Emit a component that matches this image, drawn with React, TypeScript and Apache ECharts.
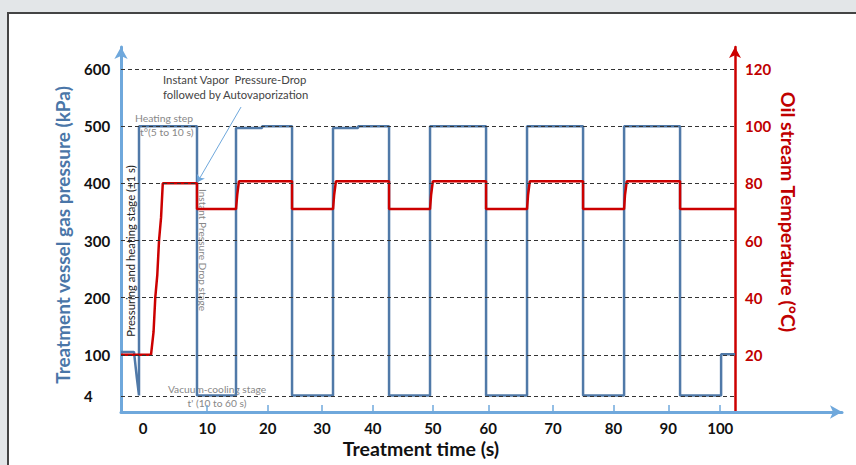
import React, { useEffect, useRef } from "react";
import * as echarts from "echarts";

// Schematic time axis: where each tick label sits (axis units) and its text
const timeTickPositions = [0.2, 11.3, 21.8, 31.2, 40.0, 50.4, 60.0, 71.2, 81.7, 91.2, 100.2];
const timeTickLabels = ["0", "10", "20", "30", "40", "50", "60", "70", "80", "90", "100"];

// Pressure axis (schematic: bottom "4" level drawn just above the axis)
const pressureTickValues = [28, 100, 200, 300, 400, 500, 600];
const pressureTickLabels = ["4", "100", "200", "300", "400", "500", "600"];

const temperatureTickValues = [20, 40, 60, 80, 100, 120];
const temperatureTickLabels = ["20", "40", "60", "80", "100", "120"];

// Treatment vessel gas pressure (kPa, schematic units)
const pressureTime = [
  -3.64, -1.39, -0.9, -0.52, -0.52, 9.53, 9.53, 16.29, 16.29, 20.8, 20.8, 26.0, 26.0,
  33.1, 33.1, 37.44, 37.44, 42.81, 42.81, 49.91, 49.91, 59.62, 59.62, 66.72, 66.72,
  76.43, 76.43, 83.54, 83.54, 93.24, 93.24, 100.35, 100.35, 102.77,
];
const pressureValues = [
  105, 105, 60, 29, 500, 500, 29, 29, 497, 497, 500, 500, 29,
  29, 497, 497, 500, 500, 29, 29, 500, 500, 29, 29, 500,
  500, 29, 29, 500, 500, 29, 29, 101, 101,
];

// Oil stream temperature (°C)
const temperatureTime = [
  -3.64, 1.56, 2.0, 2.3, 2.65, 2.95, 3.3, 3.6, 9.53, 9.53, 16.29, 16.5, 16.8, 26.0, 26.0,
  33.1, 33.3, 33.6, 42.81, 42.81, 49.91, 50.1, 50.4, 59.62, 59.62, 66.72, 66.9, 67.2,
  76.43, 76.43, 83.54, 83.7, 84.0, 93.24, 93.24, 102.77,
];
const temperatureValues = [
  20, 20, 28, 40, 48, 60, 68, 80, 80, 71, 71, 76, 80.7, 80.7, 71,
  71, 76, 80.7, 80.7, 71, 71, 76, 80.7, 80.7, 71, 71, 76, 80.7,
  80.7, 71, 71, 76, 80.7, 80.7, 71, 71,
];

const X_MIN = -3.64;
const X_MAX = 121.3;
const X_END = 102.77;
const P_MAX = 638.5;

function labelFor(positions: number[], labels: string[], v: number) {
  let best = 0;
  for (let i = 1; i < positions.length; i++) {
    if (Math.abs(positions[i] - v) < Math.abs(positions[best] - v)) best = i;
  }
  return labels[best];
}

const FONT = "Lato, 'Open Sans', sans-serif";
const AXIS_BLUE = "#6FA8DC";
const LINE_BLUE = "#5079A8";
const RED = "#CC0000";

export default function App() {
  const ref = useRef<HTMLDivElement>(null);

  useEffect(() => {
    if (!ref.current) return;
    const chart = echarts.init(ref.current, null, { renderer: "svg" });

    const pressureData = pressureTime.map((t, i) => [t, pressureValues[i]]);
    const temperatureData = temperatureTime.map((t, i) => [t, temperatureValues[i]]);

    const gridLines = pressureTickValues.map((v) => [
      { coord: [X_MIN, v] },
      { coord: [X_END, v] },
    ]);

    const text = (
      content: string,
      x: number,
      y: number,
      size: number,
      fill: string,
      opts: any = {}
    ) => ({
      type: "text",
      x,
      y,
      rotation: opts.rotation || 0,
      style: {
        text: content,
        font: `${opts.bold ? "bold " : ""}${size}px ${FONT}`,
        fill,
        textAlign: opts.align || "center",
        textVerticalAlign: "middle",
      },
    });

    const option: any = {
      animation: false,
      backgroundColor: "transparent",
      grid: {
        left: 121,
        right: 856 - 842,
        top: 47,
        bottom: 465 - 412,
        containLabel: false,
        outerBoundsMode: "none",
      },
      xAxis: {
        type: "value",
        min: X_MIN,
        max: X_MAX,
        axisLine: {
          onZero: false,
          symbol: ["none", "arrow"],
          symbolSize: [10, 12],
          lineStyle: { color: AXIS_BLUE, width: 3 },
        },
        axisTick: {
          show: true,
          inside: true,
          length: 7,
          customValues: timeTickPositions.slice(1),
          lineStyle: { color: AXIS_BLUE, width: 1.5 },
        },
        axisLabel: {
          customValues: timeTickPositions,
          formatter: (v: number) => labelFor(timeTickPositions, timeTickLabels, v),
          color: "#111",
          fontFamily: FONT,
          fontWeight: "bold",
          fontSize: 15,
          margin: 8,
        },
        splitLine: { show: false },
      },
      yAxis: [
        {
          type: "value",
          position: "left",
          min: 0,
          max: P_MAX,
          axisLine: {
            show: true,
            onZero: false,
            symbol: ["none", "arrow"],
            symbolSize: [10, 12],
            lineStyle: { color: AXIS_BLUE, width: 3 },
          },
          axisTick: { show: false },
          axisLabel: {
            customValues: pressureTickValues,
            formatter: (v: number) => labelFor(pressureTickValues, pressureTickLabels, v),
            align: "left",
            margin: 37,
            color: "#111",
            fontFamily: FONT,
            fontWeight: "bold",
            fontSize: 15,
          },
          splitLine: { show: false },
        },
        {
          type: "value",
          position: "right",
          offset: -(842 - 735),
          min: 0,
          max: P_MAX / 5,
          axisLine: {
            show: true,
            onZero: false,
            symbol: ["none", "arrow"],
            symbolSize: [9, 11],
            lineStyle: { color: RED, width: 2.5 },
          },
          axisTick: { show: false },
          axisLabel: {
            customValues: temperatureTickValues,
            formatter: (v: number) =>
              labelFor(temperatureTickValues, temperatureTickLabels, v),
            align: "left",
            margin: 10,
            color: "#C00000",
            fontFamily: FONT,
            fontWeight: "bold",
            fontSize: 15,
          },
          splitLine: { show: false },
        },
      ],
      series: [
        {
          name: "grid",
          type: "line",
          yAxisIndex: 0,
          data: pressureData,
          showSymbol: false,
          silent: true,
          z: 1,
          lineStyle: { opacity: 0 },
          markLine: {
            silent: true,
            symbol: ["none", "none"],
            label: { show: false },
            lineStyle: { color: "#333", width: 1, type: [4, 3] },
            data: gridLines,
          },
        },
        {
          name: "arrow",
          type: "line",
          yAxisIndex: 0,
          data: pressureData,
          showSymbol: false,
          silent: true,
          z: 5,
          lineStyle: { opacity: 0 },
          markLine: {
            silent: true,
            symbol: ["none", "arrow"],
            symbolSize: 7,
            label: { show: false },
            lineStyle: { color: AXIS_BLUE, width: 1, type: "solid" },
            data: [[{ coord: [17.16, 533.5] }, { coord: [9.6, 402] }]],
          },
        },
        {
          name: "Treatment vessel gas pressure",
          type: "line",
          yAxisIndex: 0,
          data: pressureData,
          showSymbol: false,
          z: 3,
          lineStyle: { color: LINE_BLUE, width: 2.5 },
        },
        {
          name: "Oil stream temperature",
          type: "line",
          yAxisIndex: 1,
          data: temperatureData,
          showSymbol: false,
          z: 4,
          lineStyle: { color: RED, width: 2.5 },
        },
      ],
      graphic: [
        text("Treatment vessel gas pressure (kPa)", 62, 235, 19, "#4A76A8", {
          bold: true,
          rotation: Math.PI / 2,
        }),
        text("Oil stream Temperature (°C)", 788, 212, 19.5, "#C00000", {
          bold: true,
          rotation: -Math.PI / 2,
        }),
        text("Treatment time (s)", 421, 448, 19.5, "#111", { bold: true }),
        text("Instant Vapor  Pressure-Drop", 163, 79, 11.3, "#444", { align: "left" }),
        text("followed by Autovaporization", 163, 94, 11.3, "#444", { align: "left" }),
        text("Heating step", 135, 118, 10.4, "#888", { align: "left" }),
        text("t°(5 to 10 s)", 140, 132, 10.4, "#888", { align: "left" }),
        text("Vacuum-cooling stage", 217, 389, 10.2, "#888"),
        text("t' (10 to 60 s)", 217, 403, 10.2, "#888"),
        text("Pressuring and heating stage (±1 s)", 130, 251, 11.3, "#222", {
          rotation: Math.PI / 2,
        }),
        text("Instant Pressure Drop stage", 203, 250, 10.1, "#888", {
          rotation: -Math.PI / 2,
        }),
      ],
    };

    chart.setOption(option);
    return () => chart.dispose();
  }, []);

  return (
    <div
      style={{
        position: "absolute",
        left: 0,
        top: 0,
        width: 856,
        height: 465,
        overflow: "hidden",
        background: "#E3E6E8",
      }}
    >
      <div
        style={{
          position: "absolute",
          left: 7,
          top: 12,
          width: 880,
          height: 480,
          border: "2px solid #444",
          background: "#fff",
        }}
      />
      <div
        ref={ref}
        style={{ position: "absolute", left: 0, top: 0, width: 856, height: 465 }}
      />
    </div>
  );
}
